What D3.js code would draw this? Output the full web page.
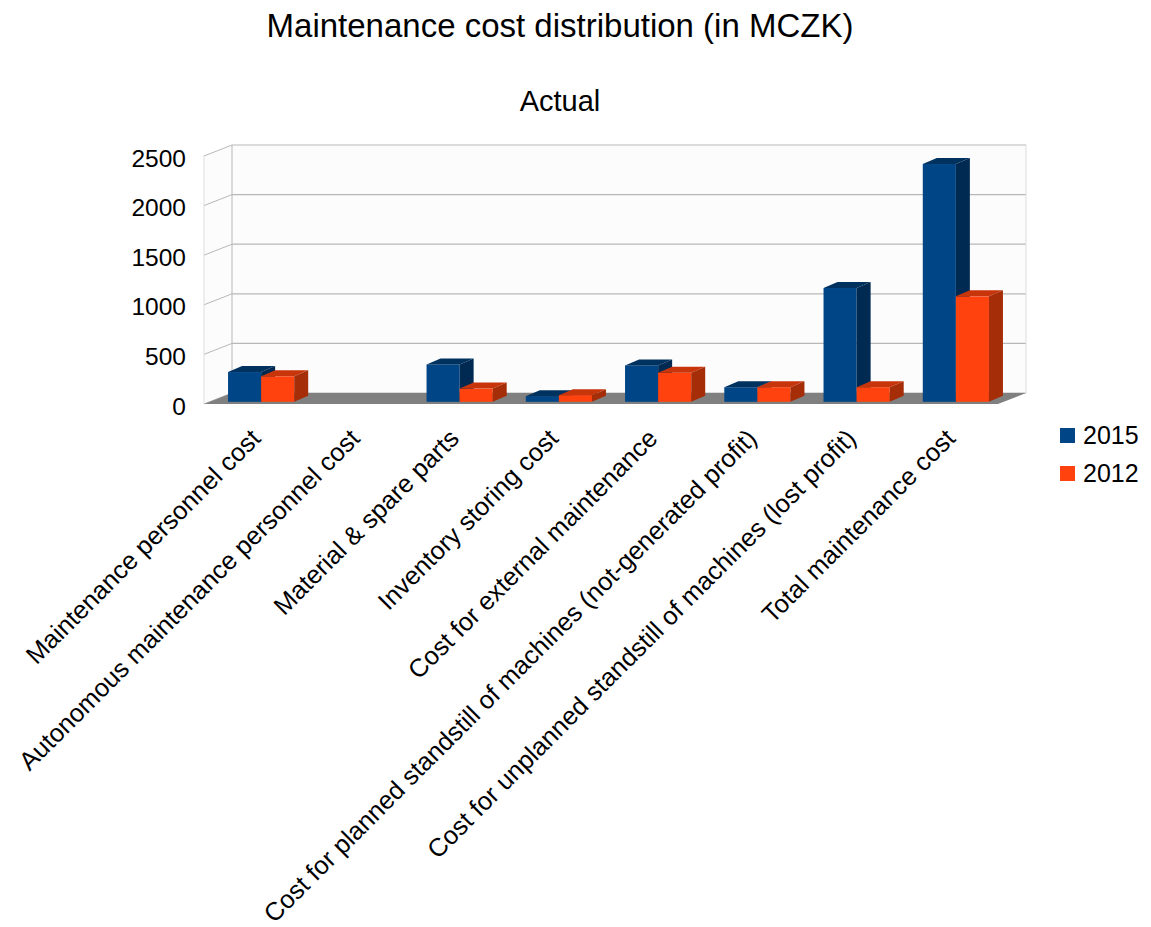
<!DOCTYPE html>
<html>
<head>
<meta charset="utf-8">
<script src="https://cdn.jsdelivr.net/npm/d3@7"></script>
<style>
  body { margin: 0; background: #fff; }
  text { font-family: "Liberation Sans", Arial, sans-serif; fill: #000; }
</style>
</head>
<body>
<div id="chart"></div>
<script>
// values (MCZK)
const categories = [
  "Maintenance personnel cost",
  "Autonomous maintenance personnel cost",
  "Material & spare parts",
  "Inventory storing cost",
  "Cost for external maintenance",
  "Cost for planned standstill of machines (not-generated profit)",
  "Cost for unplanned standstill of machines (lost profit)",
  "Total maintenance cost"
];
const seriesNames = ["2015", "2012"];
const values2015 = [300, 0, 377, 57, 367, 147, 1147, 2397];
const values2012 = [257, 0, 133, 67, 293, 147, 147, 1063];
const yTicks = [0, 500, 1000, 1500, 2000, 2500];

const width = 1151, height = 927;
const colors = {
  "2015": { front: "#004586", top: "#00325f", side: "#002a52" },
  "2012": { front: "#ff420e", top: "#c9350b", side: "#a52e08" }
};

// 3d box geometry: floor front edge, full depth vector, bar depth
const floorX0 = 204, floorX1 = 998, floorY = 404;
const depth = { dx: 28, dy: -11 };
const barDepth = { dx: 14, dy: -6 };
const barBase = 401.8;

const svg = d3.select("#chart").append("svg")
  .attr("width", width)
  .attr("height", height);

const y = d3.scaleLinear().domain([0, 2500]).range([0, 248]);

const x = d3.scaleBand().domain(categories).range([211.5, 1005.5]).padding(0);
const xs = d3.scaleBand().domain(seriesNames).range([0, x.bandwidth()])
  .paddingInner(0).paddingOuter(0.5);

// titles
svg.append("text").attr("x", 560).attr("y", 37).attr("text-anchor", "middle")
  .style("font-size", "33px").text("Maintenance cost distribution (in MCZK)");
svg.append("text").attr("x", 560).attr("y", 111).attr("text-anchor", "middle")
  .style("font-size", "29px").text("Actual");

// walls
const backX0 = floorX0 + depth.dx, backX1 = floorX1 + depth.dx, backY = floorY + depth.dy;
const walls = svg.append("g");
walls.append("rect")
  .attr("x", backX0).attr("y", backY - y(2500))
  .attr("width", backX1 - backX0).attr("height", y(2500))
  .attr("fill", "#fcfcfc");
walls.append("polygon")
  .attr("points", [[floorX0, floorY], [backX0, backY], [backX0, backY - y(2500)], [floorX0, floorY - y(2500)]].join(" "))
  .attr("fill", "#fcfcfc");

const gridColor = "#b8b8b8";
walls.selectAll("line.grid").data(yTicks).join("line")
  .attr("class", "grid")
  .attr("x1", backX0).attr("x2", backX1)
  .attr("y1", d => backY - y(d)).attr("y2", d => backY - y(d))
  .attr("stroke", gridColor).attr("stroke-width", 1.2);
walls.selectAll("line.side").data(yTicks).join("line")
  .attr("class", "side")
  .attr("x1", floorX0).attr("x2", backX0)
  .attr("y1", d => floorY - y(d)).attr("y2", d => backY - y(d))
  .attr("stroke", gridColor).attr("stroke-width", 1);
walls.append("line")
  .attr("x1", backX0).attr("x2", backX0)
  .attr("y1", backY).attr("y2", backY - y(2500))
  .attr("stroke", gridColor);
walls.append("line")
  .attr("x1", backX1).attr("x2", backX1)
  .attr("y1", backY).attr("y2", backY - y(2500))
  .attr("stroke", "#dddddd");
walls.append("line")
  .attr("x1", floorX0).attr("x2", floorX0)
  .attr("y1", floorY).attr("y2", floorY - y(2500))
  .attr("stroke", "#dddddd");

// floor
svg.append("polygon")
  .attr("points", [[floorX0, floorY], [floorX1, floorY], [backX1, backY], [backX0, backY]].join(" "))
  .attr("fill", "#808080");

// y tick labels
svg.append("g").selectAll("text").data(yTicks).join("text")
  .attr("x", 186).attr("y", d => floorY - y(d) + 2)
  .attr("text-anchor", "end").attr("dominant-baseline", "central")
  .style("font-size", "24.5px")
  .text(d => d);

// bars
const barData = [];
categories.forEach((c, i) => {
  barData.push({ cat: c, s: "2015", v: values2015[i] });
  barData.push({ cat: c, s: "2012", v: values2012[i] });
});

const bars = svg.append("g").selectAll("g").data(barData.filter(d => d.v > 0)).join("g");
bars.each(function(d) {
  const g = d3.select(this);
  const x0 = x(d.cat) + xs(d.s), x1 = x0 + xs.bandwidth();
  const yt = barBase - y(d.v);
  const c = colors[d.s];
  g.append("rect").attr("x", x0).attr("y", yt)
    .attr("width", x1 - x0).attr("height", barBase - yt).attr("fill", c.front);
  g.append("polygon")
    .attr("points", [[x0, yt], [x1, yt], [x1 + barDepth.dx, yt + barDepth.dy], [x0 + barDepth.dx, yt + barDepth.dy]].join(" "))
    .attr("fill", c.top);
  g.append("polygon")
    .attr("points", [[x1, yt], [x1 + barDepth.dx, yt + barDepth.dy], [x1 + barDepth.dx, barBase + barDepth.dy], [x1, barBase]].join(" "))
    .attr("fill", c.side);
});

// category labels, rotated 45 degrees
svg.append("g").selectAll("text").data(categories).join("text")
  .attr("transform", d => `translate(${x(d) + x.bandwidth() / 2 + 1},440) rotate(-45)`)
  .attr("text-anchor", "end")
  .style("font-size", "25.5px")
  .text(d => d);

// legend
const legend = svg.append("g").selectAll("g").data(seriesNames).join("g")
  .attr("transform", (d, i) => `translate(1060,${428 + i * 38})`);
legend.append("rect").attr("width", 15).attr("height", 15)
  .attr("fill", d => colors[d].front);
legend.append("text").attr("x", 23).attr("y", 16)
  .style("font-size", "25px").text(d => d);
</script>
</body>
</html>
